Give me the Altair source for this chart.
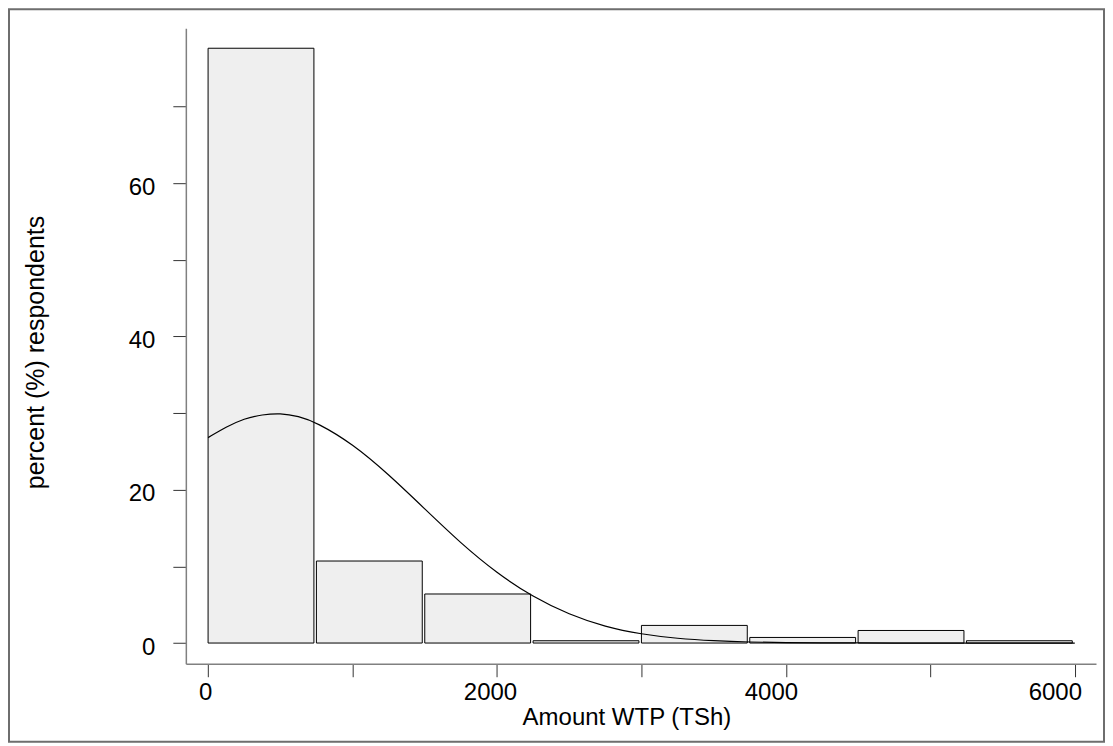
import altair as alt
import pandas as pd

# ---- data ----
bin_start = [0, 750, 1500, 2250, 3000, 3750, 4500, 5250]
bin_end = [750, 1500, 2250, 3000, 3750, 4500, 5250, 6000]
percent = [77.6, 10.7, 6.4, 0.3, 2.3, 0.73, 1.64, 0.3]

curve_x = [0, 125, 250, 375, 500, 625, 750, 1000, 1250, 1500, 1750, 2000,
           2250, 2500, 2750, 3000, 3250, 3500, 3750, 4000, 4250, 4500, 4750,
           5000, 5250, 5500, 5750, 6000]
curve_y = [26.8, 28.2, 29.3, 29.8, 30.0, 29.6, 28.8, 26.0, 22.0, 17.5, 13.0,
           9.1, 6.0, 3.7, 2.1, 1.15, 0.58, 0.28, 0.12, 0.05, 0.02, 0.01, 0.0,
           0.0, 0.0, 0.0, 0.0, 0.0]

x_ticks = [0, 1000, 2000, 3000, 4000, 5000, 6000]
x_labels = [0, 2000, 4000, 6000]
x_label_shift = [-3, -7, -15, -20]
y_ticks = [0, 10, 20, 30, 40, 50, 60, 70]
y_labels = [0, 20, 40, 60]

x_title = "Amount WTP (TSh)"
y_title = "percent (%) respondents"

FONT = "Liberation Sans"

bars_df = pd.DataFrame({"start": bin_start, "end": bin_end, "pct": percent})
curve_df = pd.DataFrame({"x": curve_x, "y": curve_y})

xscale = alt.Scale(domain=[-154, 6147], nice=False, zero=False)
yscale = alt.Scale(domain=[-2.7, 80.2], nice=False, zero=False)

x_label_offset = {
    "condition": [
        {"test": f"datum.value == {v}", "value": s}
        for v, s in zip(x_labels[1:], x_label_shift[1:])
    ],
    "value": x_label_shift[0],
}

xaxis = alt.Axis(
    values=x_ticks, format="d",
    labelExpr=f"indexof({x_labels}, datum.value) >= 0 ? datum.label : ''",
    grid=False, domainColor="#808080", domainWidth=1.5,
    tickColor="#333333", tickWidth=1, tickSize=13,
    labelFont=FONT, labelFontSize=24, labelColor="black",
    labelPadding=23, labelBaseline="alphabetic", labelFlush=False,
    labelOverlap=False, labelOffset=x_label_offset,
    titleFont=FONT, titleFontSize=24, titleFontWeight="normal",
    titleColor="black", titleX=441, titleY=61, titleBaseline="alphabetic",
    titleAlign="center",
)
yaxis = alt.Axis(
    values=y_ticks, format="d",
    labelExpr=f"indexof({y_labels}, datum.value) >= 0 ? datum.label : ''",
    grid=False, domainColor="#808080", domainWidth=1.5,
    tickColor="#333333", tickWidth=1, tickSize=13,
    labelFont=FONT, labelFontSize=24, labelColor="black",
    labelPadding=18, labelBaseline="middle", labelOffset=4,
    labelOverlap=False, labelFlush=False,
    titleFont=FONT, titleFontSize=25, titleFontWeight="normal",
    titleColor="black", titleX=-150, titleY=324, titleAngle=270,
    titleBaseline="middle", titleAlign="center",
)

bars = alt.Chart(bars_df).mark_rect(
    fill="#efefef", stroke="black", strokeWidth=1, x2Offset=-2.5
).encode(
    x=alt.X("start:Q", scale=xscale, axis=xaxis, title=x_title),
    x2="end:Q",
    y=alt.Y("pct:Q", scale=yscale, axis=yaxis, title=y_title),
    y2=alt.datum(0),
)

curve = alt.Chart(curve_df).mark_line(
    color="black", strokeWidth=1.2, interpolate="basis"
).encode(
    x=alt.X("x:Q", scale=xscale, title=x_title),
    y=alt.Y("y:Q", scale=yscale, title=y_title),
)

border = alt.Chart(pd.DataFrame({"k": [0]})).mark_rect(
    fillOpacity=0, stroke="#6e6e6e", strokeWidth=2
).encode(
    x=alt.value(-177), x2=alt.value(919),
    y=alt.value(-19), y2=alt.value(714),
)

chart = alt.layer(bars, curve, border).properties(
    width=911, height=636, padding=0, background="white"
).configure_view(strokeWidth=0)

chart.save("out.html", embed_options={"renderer": "svg", "actions": False})
